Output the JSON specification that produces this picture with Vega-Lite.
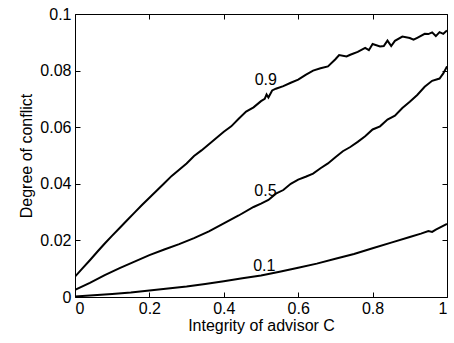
{
  "$schema": "https://vega.github.io/schema/vega-lite/v6.json",
  "width": 372,
  "height": 283,
  "autosize": {"type": "none"},
  "padding": {"left": 75, "top": 14, "right": 7, "bottom": 46},
  "background": "white",
  "config": {
    "view": {"stroke": null},
    "font": "Liberation Sans",
    "axis": {
      "domainColor": "black",
      "domainWidth": 1,
      "tickColor": "black",
      "tickWidth": 1,
      "tickSize": -5,
      "labelColor": "black",
      "labelFont": "Liberation Sans",
      "labelFontSize": 16,
      "titleFont": "Liberation Sans",
      "titleFontSize": 16,
      "titleFontWeight": "normal",
      "titleColor": "black",
      "grid": false
    }
  },
  "datasets": {
    "curves": [
      {"s": "0.9", "x": 0.00, "y": 0.0072},
      {"s": "0.9", "x": 0.02, "y": 0.0101},
      {"s": "0.9", "x": 0.04, "y": 0.0130},
      {"s": "0.9", "x": 0.06, "y": 0.0160},
      {"s": "0.9", "x": 0.08, "y": 0.0189},
      {"s": "0.9", "x": 0.10, "y": 0.0217},
      {"s": "0.9", "x": 0.12, "y": 0.0244},
      {"s": "0.9", "x": 0.14, "y": 0.0271},
      {"s": "0.9", "x": 0.16, "y": 0.0298},
      {"s": "0.9", "x": 0.18, "y": 0.0325},
      {"s": "0.9", "x": 0.20, "y": 0.0351},
      {"s": "0.9", "x": 0.22, "y": 0.0376},
      {"s": "0.9", "x": 0.24, "y": 0.0402},
      {"s": "0.9", "x": 0.26, "y": 0.0428},
      {"s": "0.9", "x": 0.28, "y": 0.0450},
      {"s": "0.9", "x": 0.30, "y": 0.0472},
      {"s": "0.9", "x": 0.32, "y": 0.0498},
      {"s": "0.9", "x": 0.34, "y": 0.0518},
      {"s": "0.9", "x": 0.36, "y": 0.0540},
      {"s": "0.9", "x": 0.38, "y": 0.0562},
      {"s": "0.9", "x": 0.40, "y": 0.0584},
      {"s": "0.9", "x": 0.42, "y": 0.0603},
      {"s": "0.9", "x": 0.44, "y": 0.0630},
      {"s": "0.9", "x": 0.46, "y": 0.0655},
      {"s": "0.9", "x": 0.48, "y": 0.0670},
      {"s": "0.9", "x": 0.50, "y": 0.0692},
      {"s": "0.9", "x": 0.51, "y": 0.0700},
      {"s": "0.9", "x": 0.515, "y": 0.0716},
      {"s": "0.9", "x": 0.52, "y": 0.0705},
      {"s": "0.9", "x": 0.53, "y": 0.0730},
      {"s": "0.9", "x": 0.54, "y": 0.0736},
      {"s": "0.9", "x": 0.56, "y": 0.0745},
      {"s": "0.9", "x": 0.58, "y": 0.0757},
      {"s": "0.9", "x": 0.60, "y": 0.0768},
      {"s": "0.9", "x": 0.62, "y": 0.0785},
      {"s": "0.9", "x": 0.64, "y": 0.0800},
      {"s": "0.9", "x": 0.66, "y": 0.0808},
      {"s": "0.9", "x": 0.68, "y": 0.0815},
      {"s": "0.9", "x": 0.70, "y": 0.0840},
      {"s": "0.9", "x": 0.71, "y": 0.0855},
      {"s": "0.9", "x": 0.73, "y": 0.0850},
      {"s": "0.9", "x": 0.74, "y": 0.0856},
      {"s": "0.9", "x": 0.76, "y": 0.0866},
      {"s": "0.9", "x": 0.78, "y": 0.0880},
      {"s": "0.9", "x": 0.79, "y": 0.0872},
      {"s": "0.9", "x": 0.80, "y": 0.0894},
      {"s": "0.9", "x": 0.82, "y": 0.0885},
      {"s": "0.9", "x": 0.83, "y": 0.0887},
      {"s": "0.9", "x": 0.84, "y": 0.0906},
      {"s": "0.9", "x": 0.85, "y": 0.0887},
      {"s": "0.9", "x": 0.86, "y": 0.0905},
      {"s": "0.9", "x": 0.88, "y": 0.0920},
      {"s": "0.9", "x": 0.90, "y": 0.0915},
      {"s": "0.9", "x": 0.91, "y": 0.0909},
      {"s": "0.9", "x": 0.92, "y": 0.0916},
      {"s": "0.9", "x": 0.94, "y": 0.0930},
      {"s": "0.9", "x": 0.95, "y": 0.0929},
      {"s": "0.9", "x": 0.96, "y": 0.0935},
      {"s": "0.9", "x": 0.97, "y": 0.0922},
      {"s": "0.9", "x": 0.98, "y": 0.0936},
      {"s": "0.9", "x": 0.99, "y": 0.0930},
      {"s": "0.9", "x": 1.00, "y": 0.0942},
      {"s": "0.5", "x": 0.00, "y": 0.0025},
      {"s": "0.5", "x": 0.04, "y": 0.0050},
      {"s": "0.5", "x": 0.08, "y": 0.0077},
      {"s": "0.5", "x": 0.12, "y": 0.0102},
      {"s": "0.5", "x": 0.16, "y": 0.0125},
      {"s": "0.5", "x": 0.20, "y": 0.0148},
      {"s": "0.5", "x": 0.24, "y": 0.0168},
      {"s": "0.5", "x": 0.28, "y": 0.0187},
      {"s": "0.5", "x": 0.32, "y": 0.0208},
      {"s": "0.5", "x": 0.36, "y": 0.0232},
      {"s": "0.5", "x": 0.40, "y": 0.0260},
      {"s": "0.5", "x": 0.44, "y": 0.0288},
      {"s": "0.5", "x": 0.48, "y": 0.0318},
      {"s": "0.5", "x": 0.50, "y": 0.0330},
      {"s": "0.5", "x": 0.52, "y": 0.0343},
      {"s": "0.5", "x": 0.54, "y": 0.0365},
      {"s": "0.5", "x": 0.56, "y": 0.0378},
      {"s": "0.5", "x": 0.58, "y": 0.0400},
      {"s": "0.5", "x": 0.60, "y": 0.0415},
      {"s": "0.5", "x": 0.62, "y": 0.0425},
      {"s": "0.5", "x": 0.64, "y": 0.0436},
      {"s": "0.5", "x": 0.66, "y": 0.0455},
      {"s": "0.5", "x": 0.68, "y": 0.0472},
      {"s": "0.5", "x": 0.70, "y": 0.0494},
      {"s": "0.5", "x": 0.72, "y": 0.0515},
      {"s": "0.5", "x": 0.74, "y": 0.0530},
      {"s": "0.5", "x": 0.76, "y": 0.0548},
      {"s": "0.5", "x": 0.78, "y": 0.0568},
      {"s": "0.5", "x": 0.80, "y": 0.0592},
      {"s": "0.5", "x": 0.82, "y": 0.0603},
      {"s": "0.5", "x": 0.84, "y": 0.0627},
      {"s": "0.5", "x": 0.86, "y": 0.0641},
      {"s": "0.5", "x": 0.88, "y": 0.0668},
      {"s": "0.5", "x": 0.90, "y": 0.0690},
      {"s": "0.5", "x": 0.92, "y": 0.0714},
      {"s": "0.5", "x": 0.94, "y": 0.0743},
      {"s": "0.5", "x": 0.96, "y": 0.0764},
      {"s": "0.5", "x": 0.98, "y": 0.0772},
      {"s": "0.5", "x": 0.99, "y": 0.0790},
      {"s": "0.5", "x": 1.00, "y": 0.0815},
      {"s": "0.1", "x": 0.00, "y": 0.0002},
      {"s": "0.1", "x": 0.05, "y": 0.0006},
      {"s": "0.1", "x": 0.10, "y": 0.0011},
      {"s": "0.1", "x": 0.15, "y": 0.0016},
      {"s": "0.1", "x": 0.20, "y": 0.0023},
      {"s": "0.1", "x": 0.25, "y": 0.0030},
      {"s": "0.1", "x": 0.30, "y": 0.0037},
      {"s": "0.1", "x": 0.35, "y": 0.0046},
      {"s": "0.1", "x": 0.40, "y": 0.0056},
      {"s": "0.1", "x": 0.45, "y": 0.0066},
      {"s": "0.1", "x": 0.50, "y": 0.0076},
      {"s": "0.1", "x": 0.55, "y": 0.0089},
      {"s": "0.1", "x": 0.60, "y": 0.0103},
      {"s": "0.1", "x": 0.65, "y": 0.0118},
      {"s": "0.1", "x": 0.70, "y": 0.0135},
      {"s": "0.1", "x": 0.75, "y": 0.0152},
      {"s": "0.1", "x": 0.80, "y": 0.0172},
      {"s": "0.1", "x": 0.85, "y": 0.0192},
      {"s": "0.1", "x": 0.90, "y": 0.0212},
      {"s": "0.1", "x": 0.93, "y": 0.0224},
      {"s": "0.1", "x": 0.95, "y": 0.0233},
      {"s": "0.1", "x": 0.96, "y": 0.0230},
      {"s": "0.1", "x": 0.97, "y": 0.0238},
      {"s": "0.1", "x": 1.00, "y": 0.0258}
    ],
    "labels": [
      {"x": 0.513, "y": 0.0767, "label": "0.9"},
      {"x": 0.512, "y": 0.0375, "label": "0.5"},
      {"x": 0.509, "y": 0.0111, "label": "0.1"}
    ]
  },
  "layer": [
    {
      "data": {"name": "curves"},
      "mark": {"type": "line", "color": "black", "strokeWidth": 2, "clip": true},
      "encoding": {
        "x": {
          "field": "x", "type": "quantitative",
          "scale": {"domain": [0, 1], "nice": false, "zero": false},
          "axis": {"orient": "bottom", "values": [0, 0.2, 0.4, 0.6, 0.8, 1], "format": "~g", "title": "Integrity of advisor C", "labelPadding": 8, "titlePadding": 1}
        },
        "y": {
          "field": "y", "type": "quantitative",
          "scale": {"domain": [0, 0.1], "nice": false, "zero": false},
          "axis": {"orient": "left", "values": [0, 0.02, 0.04, 0.06, 0.08, 0.1], "format": "~g", "title": "Degree of conflict", "labelPadding": 9, "titlePadding": 5}
        },
        "detail": {"field": "s", "type": "nominal"}
      }
    },
    {
      "data": {"name": "labels"},
      "mark": {"type": "text", "font": "Liberation Sans", "fontSize": 16, "color": "black", "align": "center", "baseline": "middle"},
      "encoding": {
        "x": {
          "field": "x", "type": "quantitative",
          "axis": {"orient": "top", "values": [0, 0.2, 0.4, 0.6, 0.8, 1], "labels": false, "title": null}
        },
        "y": {
          "field": "y", "type": "quantitative",
          "axis": {"orient": "right", "values": [0, 0.02, 0.04, 0.06, 0.08, 0.1], "labels": false, "title": null}
        },
        "text": {"field": "label", "type": "nominal"}
      }
    }
  ],
  "resolve": {"axis": {"x": "independent", "y": "independent"}}
}
